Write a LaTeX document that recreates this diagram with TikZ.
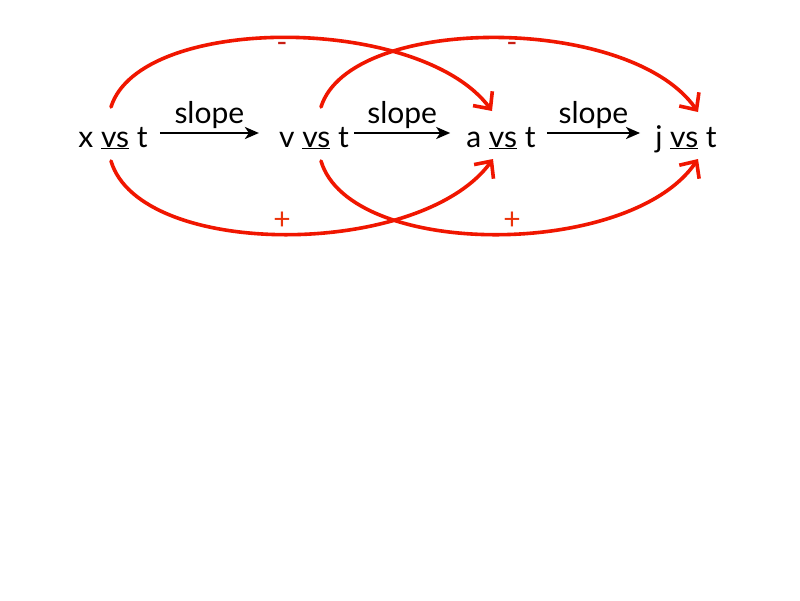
\documentclass[tikz,border=0pt]{standalone}
\usepackage{fontspec}
\setmainfont{Lato}
\usetikzlibrary{arrows.meta,calc}
\definecolor{cred}{RGB}{240,22,0}
\definecolor{minusred}{RGB}{200,30,20}
\definecolor{plusred}{RGB}{235,50,10}
\tikzset{
  lbl/.style={inner sep=0pt, anchor=base, font=\fontsize{30}{36}\selectfont},
  sl/.style={line width=2.6pt, -{Stealth[length=14pt,width=12pt,inset=4pt]}},
  rc/.style={draw=cred, line width=3.6pt, line cap=round, -{Straight Barb[length=13pt,width=24pt,line width=3.6pt]}},
  sign/.style={inner sep=0pt, font=\fontsize{30}{36}\selectfont}
}
\begin{document}
\begin{tikzpicture}[x=1pt,y=-1pt]
\useasboundingbox[fill=white] (0,0) rectangle (800,600);
\node[lbl] (x) at (113,147) {x \underline{vs} t};
\node[lbl] (v) at (314,147) {v \underline{vs} t};
\node[lbl] (a) at (501,147) {a \underline{vs} t};
\node[lbl] (j) at (686,147) {j \underline{vs} t};
\draw[sl] ($(x.base east)+(12,-14)$) -- node[lbl, above=10pt, anchor=base] (s1) {slope} ($(v.base west)+(-20,-14)$);
\draw[sl] ($(v.base east)+(5,-14)$) -- node[lbl, above=10pt, anchor=base] (s2) {slope} ($(a.base west)+(-16,-14)$);
\draw[sl] ($(a.base east)+(11,-14)$) -- node[lbl, above=10pt, anchor=base] (s3) {slope} ($(j.base west)+(-15,-14)$);
\coordinate (xt) at (111,107);
\coordinate (xb) at (111,161);
\coordinate (vt) at (321,107);
\coordinate (vb) at (321,161);
\coordinate (at) at (492,111);
\coordinate (ab) at (493,159);
\coordinate (jt) at (698,112);
\coordinate (jb) at (698,159);
\draw[rc] (xt) .. controls (140,14) and (420,14) .. (at);
\draw[rc] (vt) .. controls (350,14) and (630,14) .. (jt);
\draw[rc] (xb) .. controls (140,259) and (420,259) .. (ab);
\draw[rc] (vb) .. controls (350,259) and (630,259) .. (jb);
\node[sign, text=minusred] (m1) at (282,47) {-};
\node[sign, text=minusred] (m2) at (512,47) {-};
\node[sign, text=plusred] (p1) at (282,221) {+};
\node[sign, text=plusred] (p2) at (512,221) {+};
\end{tikzpicture}
\end{document}
